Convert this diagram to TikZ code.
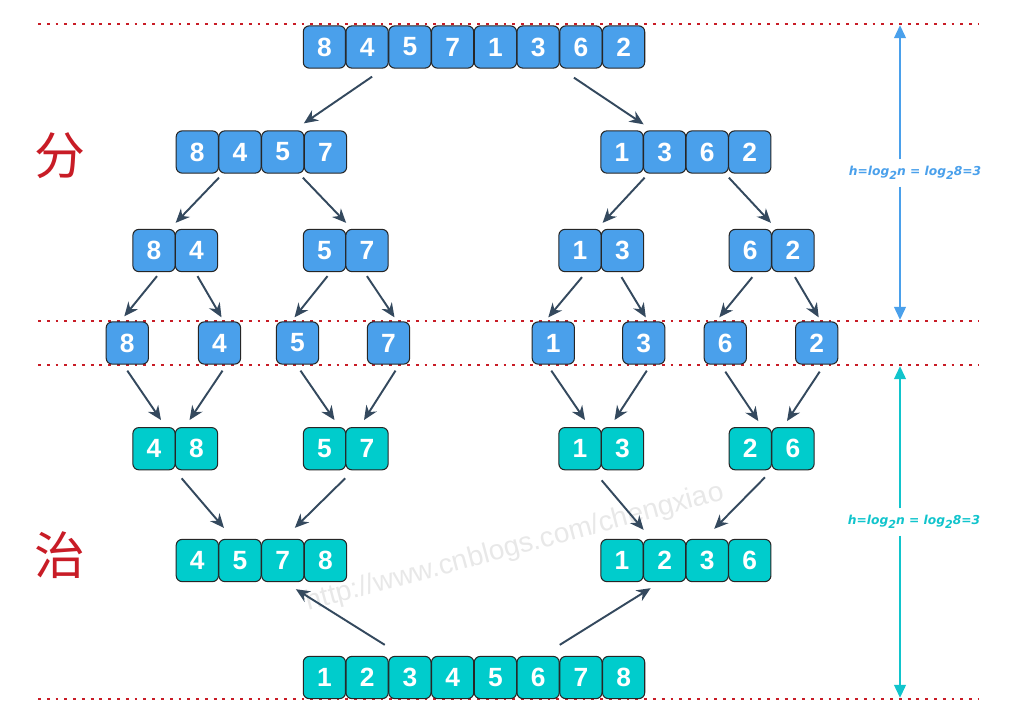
\documentclass[tikz,border=0pt]{standalone}
\usepackage{fontspec}
\setmainfont{Liberation Sans}
\newfontfamily\cjkfont{Noto Sans CJK SC}
\newfontfamily\heightfont{DejaVu Sans}
\usepackage{xcolor}
\usetikzlibrary{arrows.meta}
\definecolor{splitblue}{RGB}{74,160,235}
\definecolor{mergeteal}{RGB}{0,204,204}
\definecolor{arrowslate}{RGB}{52,73,94}
\definecolor{levelred}{RGB}{200,28,38}
\definecolor{hintteal}{RGB}{17,196,204}

\begin{document}
\begin{tikzpicture}[x=0.02cm,y=-0.02cm,>=Stealth,line join=round,
  cell/.style={draw=black!85,line width=0.6pt,rounded corners=3.4pt,minimum width=0.845cm,minimum height=0.845cm,inner sep=0pt,text=white,font=\fontsize{15}{15}\selectfont\bfseries},
  splitcell/.style={cell,fill=splitblue},
  mergecell/.style={cell,fill=mergeteal},
  flow/.style={draw=arrowslate,line width=1.1pt,-{Stealth[length=8pt,width=7pt]}},
  level/.style={draw=levelred,line width=1.3pt,dash pattern=on 1.6pt off 3.4pt},
  height/.style={line width=1.6pt,-{Triangle[length=7.5pt,width=6.5pt]}},
  heightlabel/.style={inner sep=4pt,font=\heightfont\fontsize{7}{8}\selectfont\bfseries\itshape}]
  \useasboundingbox (0,0) rectangle (1010,720);
  % watermark
  \node[rotate=15,text=black!9,font=\fontsize{16}{16}\selectfont] (mark) at (515,548) {http://www.cnblogs.com/chengxiao};
  % level lines
  \draw[level] (38,24) -- (978,24);
  \draw[level] (38,321) -- (978,321);
  \draw[level] (38,365) -- (978,365);
  \draw[level] (38,699) -- (978,699);
  % split rows
  \node[splitcell] (a1) at (324.4,47) {8};
  \node[splitcell] (a2) at (367.1,47) {4};
  \node[splitcell] (a3) at (409.9,47) {5};
  \node[splitcell] (a4) at (452.6,47) {7};
  \node[splitcell] (a5) at (495.4,47) {1};
  \node[splitcell] (a6) at (538.1,47) {3};
  \node[splitcell] (a7) at (580.9,47) {6};
  \node[splitcell] (a8) at (623.6,47) {2};
  \node[splitcell] (b1) at (197.3,152) {8};
  \node[splitcell] (b2) at (240.0,152) {4};
  \node[splitcell] (b3) at (282.8,152) {5};
  \node[splitcell] (b4) at (325.5,152) {7};
  \node[splitcell] (b5) at (622.0,152) {1};
  \node[splitcell] (b6) at (664.6,152) {3};
  \node[splitcell] (b7) at (707.2,152) {6};
  \node[splitcell] (b8) at (749.8,152) {2};
  \node[splitcell] (c1) at (154.0,250.5) {8};
  \node[splitcell] (c2) at (196.5,250.5) {4};
  \node[splitcell] (c3) at (324.5,250.5) {5};
  \node[splitcell] (c4) at (367.0,250.5) {7};
  \node[splitcell] (c5) at (580.0,250.5) {1};
  \node[splitcell] (c6) at (622.5,250.5) {3};
  \node[splitcell] (c7) at (750.3,250.5) {6};
  \node[splitcell] (c8) at (793.0,250.5) {2};
  \node[splitcell] (d1) at (127.3,343) {8};
  \node[splitcell] (d2) at (219.5,343) {4};
  \node[splitcell] (d3) at (297.5,343) {5};
  \node[splitcell] (d4) at (388.5,343) {7};
  \node[splitcell] (d5) at (553.3,343) {1};
  \node[splitcell] (d6) at (643.8,343) {3};
  \node[splitcell] (d7) at (725.3,343) {6};
  \node[splitcell] (d8) at (816.7,343) {2};
  % merge rows
  \node[mergecell] (e1) at (154.0,448.7) {4};
  \node[mergecell] (e2) at (196.5,448.7) {8};
  \node[mergecell] (e3) at (324.5,448.7) {5};
  \node[mergecell] (e4) at (367.0,448.7) {7};
  \node[mergecell] (e5) at (580.0,448.7) {1};
  \node[mergecell] (e6) at (622.5,448.7) {3};
  \node[mergecell] (e7) at (750.3,448.7) {2};
  \node[mergecell] (e8) at (793.0,448.7) {6};
  \node[mergecell] (f1) at (197.3,560.5) {4};
  \node[mergecell] (f2) at (240.0,560.5) {5};
  \node[mergecell] (f3) at (282.8,560.5) {7};
  \node[mergecell] (f4) at (325.5,560.5) {8};
  \node[mergecell] (f5) at (622.0,560.5) {1};
  \node[mergecell] (f6) at (664.6,560.5) {2};
  \node[mergecell] (f7) at (707.2,560.5) {3};
  \node[mergecell] (f8) at (749.8,560.5) {6};
  \node[mergecell] (g1) at (324.4,677.5) {1};
  \node[mergecell] (g2) at (367.1,677.5) {2};
  \node[mergecell] (g3) at (409.9,677.5) {3};
  \node[mergecell] (g4) at (452.6,677.5) {4};
  \node[mergecell] (g5) at (495.4,677.5) {5};
  \node[mergecell] (g6) at (538.1,677.5) {6};
  \node[mergecell] (g7) at (580.9,677.5) {7};
  \node[mergecell] (g8) at (623.6,677.5) {8};
  % split arrows
  \draw[flow] ([shift={(5,8)}]a2.south) -- ([shift={(0,-7)}]b4.north west);
  \draw[flow] ([shift={(-7,9)}]a7.south) -- ([shift={(0,-6)}]b5.north east);
  \draw[flow] ([shift={(0,4)}]b1.south east) -- ([shift={(0,-6)}]c1.north east);
  \draw[flow] ([shift={(-1,4)}]b4.south west) -- ([shift={(0,-6)}]c3.north east);
  \draw[flow] ([shift={(1,4)}]b5.south east) -- ([shift={(1,-6)}]c5.north east);
  \draw[flow] ([shift={(0,4)}]b7.south east) -- ([shift={(-1,-6)}]c7.north east);
  \draw[flow] ([shift={(3,4)}]c1.south) -- ([shift={(-3,-5)}]d1.north);
  \draw[flow] ([shift={(1,4)}]c2.south) -- ([shift={(2,-4)}]d2.north);
  \draw[flow] ([shift={(3,4)}]c3.south) -- ([shift={(-3,-4)}]d3.north);
  \draw[flow] ([shift={(0,4)}]c4.south) -- ([shift={(6,-4)}]d4.north);
  \draw[flow] ([shift={(2,5)}]c5.south) -- ([shift={(-5,-4)}]d5.north);
  \draw[flow] ([shift={(-1,5)}]c6.south) -- ([shift={(2,-4)}]d6.north);
  \draw[flow] ([shift={(2,5)}]c7.south) -- ([shift={(-6,-4)}]d7.north);
  \draw[flow] ([shift={(2,5)}]c8.south) -- ([shift={(2,-4)}]d8.north);
  % merge arrows
  \draw[flow] ([shift={(0,6)}]d1.south) -- ([shift={(7,-7)}]e1.north);
  \draw[flow] ([shift={(3,6)}]d2.south) -- ([shift={(-7,-7)}]e2.north);
  \draw[flow] ([shift={(3,6)}]d3.south) -- ([shift={(10,-7)}]e3.north);
  \draw[flow] ([shift={(7,6)}]d4.south) -- ([shift={(-3,-7)}]e4.north);
  \draw[flow] ([shift={(-2,6)}]d5.south) -- ([shift={(5,-7)}]e5.north);
  \draw[flow] ([shift={(3,6)}]d6.south) -- ([shift={(-8,-7)}]e6.north);
  \draw[flow] ([shift={(0,7)}]d7.south) -- ([shift={(8,-6)}]e7.north);
  \draw[flow] ([shift={(3,7)}]d8.south) -- ([shift={(-6,-6)}]e8.north);
  \draw[flow] ([shift={(6,8)}]e1.south east) -- ([shift={(5,-11)}]f1.north east);
  \draw[flow] ([shift={(-1,8)}]e3.south east) -- ([shift={(12,-11)}]f3.north);
  \draw[flow] ([shift={(0,10)}]e5.south east) -- ([shift={(0,-9)}]f5.north east);
  \draw[flow] ([shift={(-7,7)}]e7.south east) -- ([shift={(7,-10)}]f7.north);
  \draw[flow] ([shift={(-4,-11)}]g2.north east) -- ([shift={(-8,7)}]f4.south west);
  \draw[flow] ([shift={(0,-11)}]g6.north east) -- ([shift={(7,6)}]f5.south east);
  % side labels
  \node[text=levelred,font=\cjkfont\fontsize{29}{29}\selectfont] (split) at (60,156) {分};
  \node[text=levelred,font=\cjkfont\fontsize{29}{29}\selectfont] (merge) at (60,555) {治};
  \coordinate (splittop) at (900,25);
  \coordinate (splitbot) at (900,320);
  \coordinate (mergetop) at (900,366);
  \coordinate (mergebot) at (900,698);
  \node[heightlabel,text=splitblue] (hsplit) at (915,173) {h=log\raisebox{-0.5ex}{\fontsize{6.3}{7}\selectfont 2}n = log\raisebox{-0.5ex}{\fontsize{6.3}{7}\selectfont 2}8=3};
  \node[heightlabel,text=hintteal] (hmerge) at (914,522) {h=log\raisebox{-0.5ex}{\fontsize{6.3}{7}\selectfont 2}n = log\raisebox{-0.5ex}{\fontsize{6.3}{7}\selectfont 2}8=3};
  \draw[height,draw=splitblue] (splittop |- hsplit.north) -- (splittop);
  \draw[height,draw=splitblue] (splittop |- hsplit.south) -- (splitbot);
  \draw[height,draw=hintteal] (mergetop |- hmerge.north) -- (mergetop);
  \draw[height,draw=hintteal] (mergetop |- hmerge.south) -- (mergebot);
\end{tikzpicture}
\end{document}
